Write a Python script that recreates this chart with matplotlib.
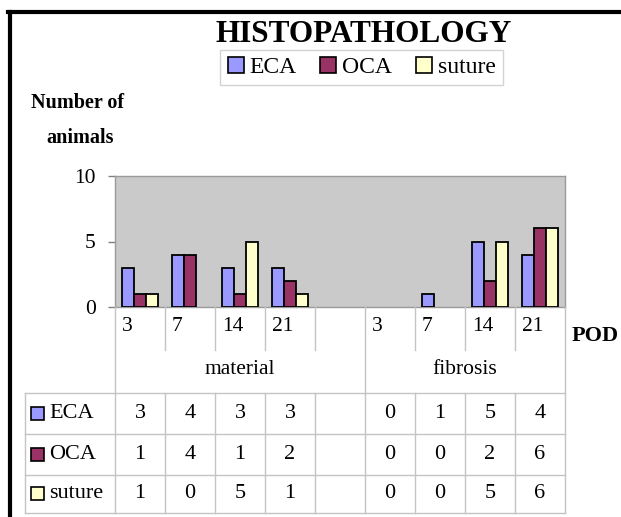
import matplotlib
matplotlib.use("Agg")
import matplotlib.pyplot as plt
from matplotlib.patches import Rectangle
from matplotlib.lines import Line2D
import numpy as np

plt.rcParams['font.family'] = ['Liberation Serif', 'DejaVu Serif']

# ---- data ----
categories = ["3", "7", "14", "21", "", "3", "7", "14", "21"]
groups = ["material", "fibrosis"]
group_spans = [(0, 5), (5, 9)]
series_names = ["ECA", "OCA", "suture"]
eca = [3, 4, 3, 3, None, 0, 1, 5, 4]
oca = [1, 4, 1, 2, None, 0, 0, 2, 6]
suture = [1, 0, 5, 1, None, 0, 0, 5, 6]
series = [eca, oca, suture]
colors = ["#9999FF", "#993366", "#FFFFCC"]
yticks = [0, 5, 10]

W, H = 621, 517
fig = plt.figure(figsize=(W / 100, H / 100), dpi=100)
fig.patch.set_facecolor("white")

def fx(px):
    return px / W

def fy(py):
    return 1 - py / H

# plot area pixel box
PL, PR, PT, PB = 115, 565, 176, 307
ax = fig.add_axes([fx(PL), fy(PB), fx(PR - PL), (PB - PT) / H])
ax.set_facecolor("#CACACA")
n = len(categories)
bw = 0.24
for k, (vals, c) in enumerate(zip(series, colors)):
    # zero-height bars are invisible in the original
    xs = [i + 0.5 + (k - 1) * bw for i in range(n) if vals[i]]
    hs = [vals[i] for i in range(n) if vals[i]]
    ax.bar(xs, hs, width=bw, color=c, edgecolor="black", linewidth=1.3, zorder=3)
ax.set_xlim(0, n)
ax.set_ylim(0, 10)
ax.set_xticks([])
ax.set_yticks(yticks)
ax.set_yticklabels([str(t) for t in yticks], fontsize=15.5)
ax.tick_params(axis="y", direction="out", length=5, width=1, color="#808080", pad=9)
for s in ax.spines.values():
    s.set_color("#9a9a9a")
    s.set_linewidth(1.0)

# ---- data table below ----
TL, TB = 25, 513
unit = (PR - PL) / n
tax = fig.add_axes([fx(TL), fy(TB), fx(PR - TL), (TB - PB) / H])
tax.set_xlim((TL - PL) / unit, n)
tax.set_ylim(TB, PB)
tax.axis("off")
lc = "#c4c4c4"
lw = 1.0
xl = (TL - PL) / unit
row_lines = [393, 434, 475, 513]
# label-row dividers
for i in range(n + 1):
    if i in (0, 5, n):
        tax.plot([i, i], [PB, row_lines[0]], color=lc, lw=lw, clip_on=False)
    else:
        tax.plot([i, i], [PB, 350], color=lc, lw=lw, clip_on=False)
    tax.plot([i, i], [row_lines[0], row_lines[-1]], color=lc, lw=lw, clip_on=False)
tax.plot([xl, xl], [row_lines[0], row_lines[-1]], color=lc, lw=lw, clip_on=False)
for y in row_lines:
    tax.plot([xl, n], [y, y], color=lc, lw=lw, clip_on=False)

for i, lab in enumerate(categories):
    tax.text(i + 7 / unit, 327, lab, ha="left", va="center", fontsize=15.5)
for g, (a, b) in zip(groups, group_spans):
    tax.text((a + b) / 2, 370, g, ha="center", va="center", fontsize=15.5)

row_centers = [(row_lines[r] + row_lines[r + 1]) / 2 for r in range(3)]
for r, (name, vals, c) in enumerate(zip(series_names, series, colors)):
    yc = row_centers[r]
    tax.add_patch(Rectangle(((31 - PL) / unit, yc - 6.5), 13 / unit, 13,
                            facecolor=c, edgecolor="black", lw=1.2, clip_on=False))
    tax.text((49 - PL) / unit, yc, name, ha="left", va="center", fontsize=16)
    for i, v in enumerate(vals):
        if v is not None:
            tax.text(i + 0.5, yc, str(v), ha="center", va="center", fontsize=16)

# ---- titles / labels ----
fig.text(fx(364), fy(42), "HISTOPATHOLOGY", ha="center", va="baseline",
         fontsize=22.5, fontweight="bold")
fig.text(fx(31), fy(108), "Number of", ha="left", va="baseline", fontsize=14.5, fontweight="bold")
fig.text(fx(46), fy(143), "animals", ha="left", va="baseline", fontsize=14.5, fontweight="bold")
fig.text(fx(572), fy(336), "POD", ha="left", va="center", fontsize=16, fontweight="bold")

handles = [Rectangle((0, 0), 1, 1, facecolor=c, edgecolor="black", lw=1.2) for c in colors]
leg = fig.legend(handles, series_names, loc="center", bbox_to_anchor=(fx(361.5), fy(67.5)),
                 ncol=3, fontsize=17, frameon=True, fancybox=False,
                 handlelength=0.68, handleheight=0.68, handletextpad=0.25, columnspacing=1.0,
                 borderpad=0.3, borderaxespad=0)
leg.get_frame().set_edgecolor("#c8c8c8")
leg.get_frame().set_linewidth(1.0)

# ---- outer frame (top and left) ----
fig.add_artist(Line2D([fx(8), 1], [fy(12), fy(12)], color="black", lw=3, transform=fig.transFigure))
fig.add_artist(Line2D([fx(10), fx(10)], [fy(12), 0], color="black", lw=3, transform=fig.transFigure))

fig.savefig("out.png", dpi=100)
